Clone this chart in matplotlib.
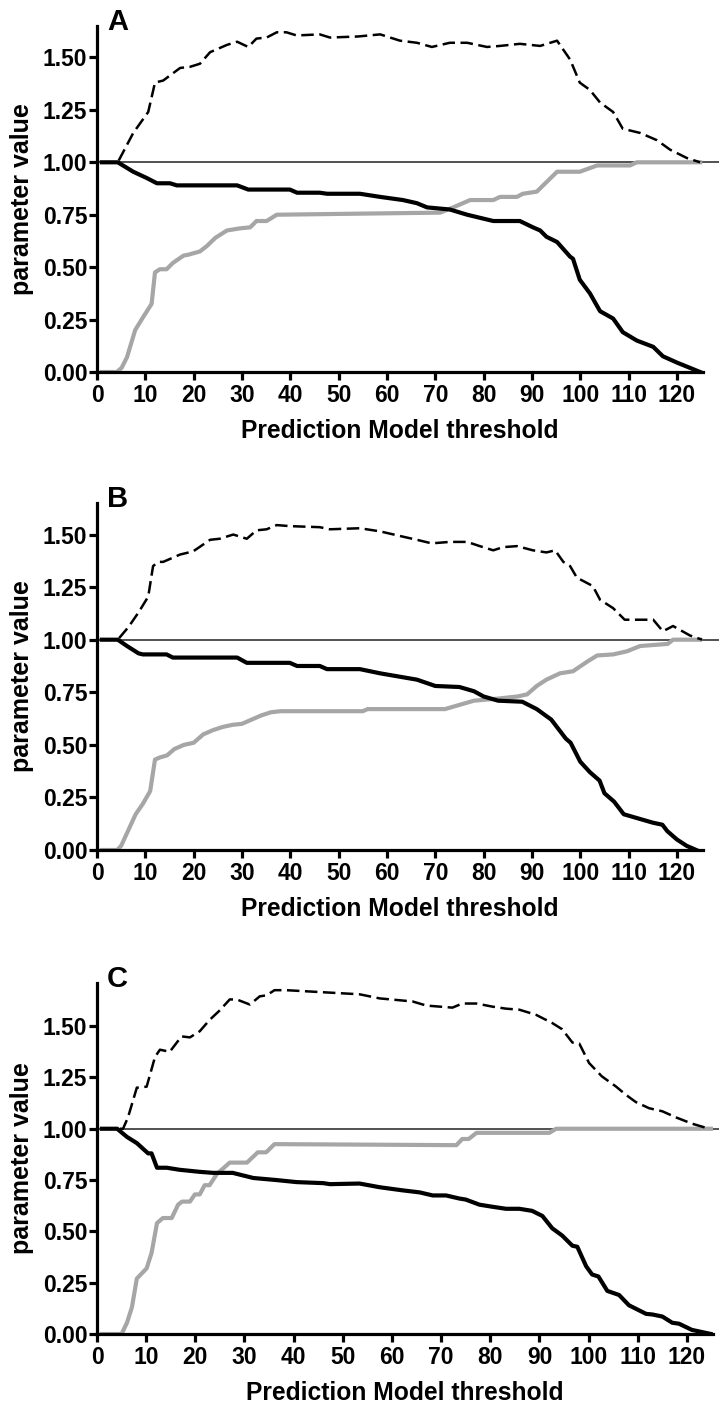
import numpy as np
import matplotlib.pyplot as plt

plt.rcParams['font.family'] = ['Liberation Sans', 'DejaVu Sans']
plt.rcParams['font.weight'] = 'bold'

# ---- panel A ----
a_lr_x = [1, 4.3, 7.5, 10.6, 12, 13.7, 17.2, 19.2, 21.3, 23.4, 26.9, 29, 31.3, 33, 35.1, 37.2, 39.2,
          41.3, 46.1, 48.2, 54, 58.6, 62.7, 66.2, 69.3, 73, 76.6, 80.7, 83.4, 87.5, 91.7, 95.2, 97.9,
          99.9, 102, 104.1, 106.8, 108.8, 112.4, 115.9, 118.6, 122.1, 124.8]
a_lr_y = [1.0, 1.0, 1.14, 1.24, 1.38, 1.39, 1.45, 1.455, 1.47, 1.525, 1.56, 1.575, 1.55, 1.59, 1.595,
          1.62, 1.62, 1.605, 1.61, 1.595, 1.6, 1.61, 1.58, 1.57, 1.55, 1.57, 1.57, 1.55, 1.555, 1.565,
          1.555, 1.58, 1.49, 1.38, 1.345, 1.285, 1.24, 1.16, 1.14, 1.105, 1.06, 1.02, 1.0]
a_sens_x = [1, 4.3, 7.5, 10.3, 12.4, 15.1, 16.5, 29, 31.3, 39.9, 41.4, 46.1, 47.6, 54.4, 58.6, 63.3,
            66.2, 68.3, 73, 76.6, 82, 87.5, 90.2, 91.7, 93, 95.2, 97.9, 98.5, 99.9, 102, 104.1, 106.8,
            108.8, 111.7, 115.1, 117.1, 120, 124.8]
a_sens_y = [1.0, 1.0, 0.955, 0.925, 0.90, 0.90, 0.89, 0.89, 0.87, 0.87, 0.855, 0.855, 0.85, 0.85,
            0.835, 0.82, 0.805, 0.785, 0.775, 0.75, 0.72, 0.72, 0.69, 0.675, 0.645, 0.62, 0.55, 0.54,
            0.44, 0.375, 0.29, 0.255, 0.19, 0.15, 0.12, 0.075, 0.045, 0.0]
a_spec_x = [1, 4.1, 5.1, 6.2, 7.9, 9.5, 11.3, 12, 13, 14.4, 15.7, 17.9, 19, 21.3, 22.7, 24.5, 26.9,
            29.6, 31.7, 33, 35.1, 37.2, 54, 71, 73.7, 77.2, 82, 83.4, 86.9, 88.1, 91, 95.2, 99.9,
            103.5, 110.3, 111.7, 124.8]
a_spec_y = [0, 0, 0.02, 0.07, 0.2, 0.26, 0.325, 0.475, 0.49, 0.49, 0.52, 0.555, 0.56, 0.575, 0.60,
            0.64, 0.675, 0.685, 0.69, 0.72, 0.72, 0.75, 0.755, 0.76, 0.785, 0.82, 0.82, 0.835, 0.835,
            0.85, 0.86, 0.955, 0.955, 0.985, 0.985, 1.0, 1.0]

# ---- panel B ----
b_lr_x = [1, 4.3, 6.5, 8.6, 10.6, 11.6, 12.7, 13.7, 17.2, 19.9, 23.4, 25.4, 28.2, 31, 33, 35.1, 37.2,
          39.9, 46.1, 48.2, 54.4, 58.6, 63.3, 66.2, 68.9, 70.3, 73, 76.6, 79.2, 82, 84, 86.9, 90.2, 93,
          94.8, 96.5, 97.9, 99.3, 102.6, 104.1, 106.8, 109.2, 115.1, 117.1, 119.2, 122.7, 125.2]
b_lr_y = [1.0, 1.0, 1.06, 1.13, 1.205, 1.35, 1.37, 1.37, 1.405, 1.42, 1.475, 1.48, 1.50, 1.48, 1.52,
          1.525, 1.545, 1.54, 1.535, 1.525, 1.53, 1.515, 1.49, 1.475, 1.46, 1.46, 1.465, 1.465, 1.445,
          1.425, 1.44, 1.445, 1.425, 1.415, 1.425, 1.37, 1.35, 1.295, 1.255, 1.19, 1.15, 1.095, 1.095,
          1.04, 1.065, 1.02, 1.0]
b_sens_x = [1, 4.3, 6.2, 8.6, 9.5, 14.4, 15.7, 29, 31, 39.9, 41.4, 46.1, 47.6, 54.4, 58.6, 66.2, 70,
            75, 78, 80, 83, 88, 91, 94, 97, 98, 100, 102, 104, 105, 107, 109, 112, 115, 117, 118, 120,
            122, 124]
b_sens_y = [1.0, 1.0, 0.97, 0.935, 0.93, 0.93, 0.915, 0.915, 0.89, 0.89, 0.875, 0.875, 0.86, 0.86,
            0.84, 0.81, 0.78, 0.775, 0.755, 0.73, 0.71, 0.705, 0.67, 0.62, 0.53, 0.51, 0.42, 0.37,
            0.33, 0.27, 0.23, 0.17, 0.15, 0.13, 0.12, 0.09, 0.05, 0.02, 0.0]
b_spec_x = [1, 4.2, 5, 6, 8, 9.5, 11, 12, 13, 14.5, 16, 18, 20, 22, 24, 26, 28, 30, 32, 34, 36, 38,
            55, 56, 72, 75, 78, 83, 87, 89, 91, 93, 95.8, 98.5, 101.4, 103.5, 106.8, 109.7, 112.4,
            118.1, 119.2, 124.8]
b_spec_y = [0, 0, 0.02, 0.07, 0.17, 0.22, 0.28, 0.43, 0.44, 0.45, 0.48, 0.50, 0.51, 0.55, 0.57,
            0.585, 0.595, 0.60, 0.62, 0.64, 0.655, 0.66, 0.66, 0.67, 0.67, 0.69, 0.71, 0.72, 0.73, 0.74,
            0.78, 0.81, 0.84, 0.85, 0.895, 0.925, 0.93, 0.945, 0.97, 0.98, 1.0, 1.0]

# ---- panel C ----
c_lr_x = [1, 5.3, 6.3, 8.1, 10.1, 11.8, 12.8, 14.8, 17.2, 18.9, 20.9, 22.9, 24.9, 27, 28.4, 31.1,
          33.1, 34.5, 36.1, 38.5, 53.4, 57.5, 64.2, 67, 72.3, 74.3, 77.2, 80.4, 83.2, 85.9, 89.3,
          92.6, 94.6, 96.7, 98.1, 100.1, 102.7, 105.6, 107.6, 109.6, 112.3, 115, 117.8, 121, 124.5]
c_lr_y = [1.0, 1.0, 1.055, 1.2, 1.205, 1.35, 1.385, 1.375, 1.45, 1.445, 1.475, 1.53, 1.575, 1.63,
          1.63, 1.605, 1.645, 1.65, 1.675, 1.675, 1.655, 1.635, 1.62, 1.60, 1.59, 1.61, 1.61, 1.595,
          1.585, 1.58, 1.555, 1.515, 1.485, 1.42, 1.415, 1.32, 1.255, 1.205, 1.165, 1.13, 1.10,
          1.085, 1.055, 1.025, 1.0]
c_sens_x = [1, 4.1, 6.1, 8.1, 10.4, 11.1, 12.2, 14.2, 16.8, 20.9, 23.6, 27.6, 31.8, 36.5, 40.6, 46,
            47.4, 53.4, 57.5, 62.1, 65.6, 68.3, 71, 73.7, 75, 77.8, 80.4, 83.2, 85.9, 88.5, 90.6,
            92.6, 94.6, 96.7, 97.7, 99.5, 100.7, 102, 103.8, 106.2, 108.2, 111.7, 113, 115, 117,
            118.4, 121, 124.9]
c_sens_y = [1.0, 1.0, 0.96, 0.93, 0.88, 0.88, 0.81, 0.81, 0.80, 0.79, 0.785, 0.785, 0.76, 0.75,
            0.74, 0.735, 0.73, 0.733, 0.715, 0.70, 0.69, 0.675, 0.675, 0.66, 0.655, 0.63, 0.62, 0.61,
            0.61, 0.60, 0.575, 0.515, 0.48, 0.43, 0.425, 0.33, 0.29, 0.28, 0.21, 0.19, 0.14, 0.098,
            0.095, 0.085, 0.055, 0.05, 0.02, 0.0]
c_spec_x = [1, 5.0, 6.1, 7.1, 8.1, 10.1, 11.1, 12.2, 13.4, 15.2, 16.5, 17.3, 18.9, 19.9, 20.9, 21.9,
            22.9, 24.4, 27, 30.5, 32.7, 34.4, 36.1, 73.1, 74.3, 75.6, 77.2, 92, 93.4, 124.9]
c_spec_y = [0, 0, 0.055, 0.13, 0.27, 0.32, 0.395, 0.54, 0.565, 0.565, 0.63, 0.645, 0.645, 0.68, 0.68,
            0.725, 0.725, 0.78, 0.835, 0.835, 0.885, 0.885, 0.925, 0.92, 0.95, 0.95, 0.98, 0.98, 1.0,
            1.0]

x_ticks = list(range(0, 121, 10))
y_ticks = [0.0, 0.25, 0.5, 0.75, 1.0, 1.25, 1.5]

W, H = 719, 1407
fig = plt.figure(figsize=(W / 100, H / 100), dpi=100)

# (label, left px, right px, bottom px, top px, xmax, ymax, data)
panels = [
    ("A", 97, 703, 372, 26, 125.4, 1.65, (a_lr_x, a_lr_y, a_sens_x, a_sens_y, a_spec_x, a_spec_y)),
    ("B", 97, 703, 850, 503, 125.4, 1.65, (b_lr_x, b_lr_y, b_sens_x, b_sens_y, b_spec_x, b_spec_y)),
    ("C", 97, 713, 1334, 983, 125.3, 1.71, (c_lr_x, c_lr_y, c_sens_x, c_sens_y, c_spec_x, c_spec_y)),
]

for label, l, r, b, t, xmax, ymax, d in panels:
    ax = fig.add_axes([l / W, 1 - b / H, (r - l) / W, (b - t) / H])
    lr_x, lr_y, se_x, se_y, sp_x, sp_y = d

    ax.axhline(1.0, xmin=0, xmax=(W - l) / (r - l), color="#222222", lw=1.1, clip_on=False, zorder=1)
    ax.plot(se_x, se_y, color="black", lw=3.0, solid_joinstyle="round", zorder=3)
    ax.plot(sp_x, sp_y, color="#a6a6a6", lw=3.0, solid_joinstyle="round", zorder=2)
    ax.plot(lr_x, lr_y, color="black", lw=1.8, linestyle=(0, (5, 2.2)), zorder=4)

    ax.set_xlim(0, xmax)
    ax.set_ylim(0, ymax)
    ax.set_xticks(x_ticks)
    ax.set_yticks(y_ticks)
    ax.set_yticklabels([f"{v:.2f}" for v in y_ticks])
    for s in ["top", "right"]:
        ax.spines[s].set_visible(False)
    for s in ["left", "bottom"]:
        ax.spines[s].set_linewidth(2.3)
    ax.tick_params(axis="both", width=2.3, length=6, labelsize=16.5)
    ax.tick_params(axis="y", pad=1)
    ax.tick_params(axis="x", pad=2.5)
    for lab in ax.get_xticklabels() + ax.get_yticklabels():
        lab.set_fontweight("bold")

    fig.text(107 / W, 1 - (t + 4) / H, label, fontsize=21, fontweight="bold", va="baseline")
    fig.text(22 / W, 1 - (b + t) / 2 / H, "parameter value", rotation=90, fontsize=18,
             fontweight="bold", ha="center", va="center")
    fig.text((l + r) / 2 / W, 1 - (b + 66) / H, "Prediction Model threshold", fontsize=17.7,
             fontweight="bold", ha="center", va="baseline")

fig.savefig("out.png", dpi=100)
